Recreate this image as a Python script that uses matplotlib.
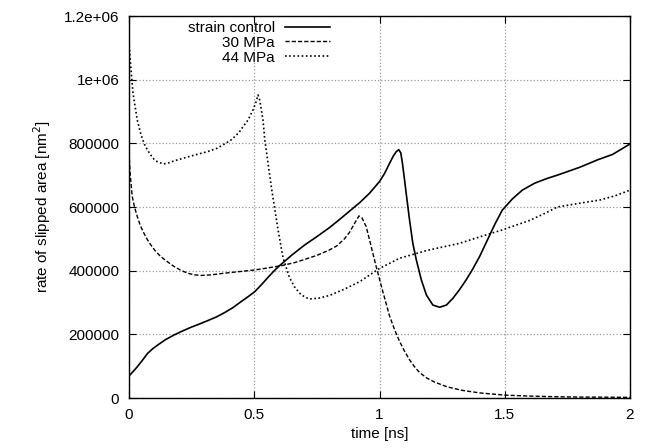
import matplotlib
matplotlib.use("Agg")
import matplotlib.pyplot as plt

plt.rcParams['font.family'] = ['Liberation Sans', 'DejaVu Sans']

# strain control (solid)
t_strain = [0.0, 0.015, 0.033, 0.055, 0.074, 0.095, 0.114, 0.145, 0.18, 0.215, 0.247, 0.28,
            0.314, 0.35, 0.381, 0.415, 0.448, 0.475, 0.502, 0.53, 0.555, 0.58, 0.6, 0.625,
            0.65, 0.7, 0.75, 0.8, 0.85, 0.9, 0.92, 0.96, 1.0, 1.02, 1.04, 1.055, 1.067,
            1.077, 1.085, 1.092, 1.1, 1.107, 1.12, 1.133, 1.147, 1.167, 1.187, 1.213, 1.24,
            1.267, 1.293, 1.32, 1.345, 1.37, 1.4, 1.43, 1.46, 1.49, 1.53, 1.57, 1.62, 1.67,
            1.71, 1.8, 1.87, 1.93, 2.0]
v_strain = [69000, 82000, 98000, 120000, 140000, 155000, 166000, 183000, 198000, 211000,
            222000, 232000, 243000, 255000, 268000, 284000, 303000, 318000, 334000, 357000,
            379000, 400000, 415000, 432000, 449000, 480000, 507000, 535000, 567000, 600000,
            613000, 643000, 680000, 705000, 737000, 760000, 774000, 780000, 770000, 735000,
            685000, 640000, 559000, 486000, 434000, 371000, 324000, 292000, 285000, 292000,
            313000, 341000, 370000, 402000, 445000, 495000, 545000, 590000, 625000, 653000,
            675000, 690000, 700000, 725000, 748000, 765000, 798000]

# 30 MPa (dashed)
t_30 = [0.0, 0.005, 0.013, 0.022, 0.033, 0.045, 0.06, 0.073, 0.087, 0.105, 0.127, 0.15,
        0.18, 0.205, 0.234, 0.26, 0.288, 0.33, 0.38, 0.44, 0.5, 0.55, 0.61, 0.66, 0.7,
        0.75, 0.8, 0.83, 0.86, 0.88, 0.9, 0.918, 0.93, 0.947, 0.967, 0.987, 1.013, 1.04,
        1.06, 1.08, 1.1, 1.12, 1.14, 1.16, 1.19, 1.22, 1.27, 1.33, 1.4, 1.5, 1.6, 1.7,
        1.8, 1.9, 2.0]
v_30 = [770000, 700000, 633000, 600000, 570000, 542000, 517000, 498000, 481000, 462000,
        444000, 430000, 413000, 402000, 392000, 387000, 385000, 387000, 392000, 397000,
        402000, 408000, 416000, 425000, 435000, 448000, 465000, 478000, 500000, 520000,
        548000, 572000, 566000, 538000, 475000, 412000, 335000, 258000, 215000, 178000,
        147000, 120000, 98000, 80000, 62000, 50000, 35000, 24000, 16000, 9000, 6000, 4000,
        3000, 2500, 2000]

# 44 MPa (dotted)
t_44 = [0.0, 0.005, 0.016, 0.033, 0.047, 0.06, 0.073, 0.087, 0.1, 0.114, 0.138, 0.16,
        0.18, 0.247, 0.314, 0.35, 0.381, 0.405, 0.422, 0.44, 0.455, 0.475, 0.495, 0.508,
        0.515, 0.522, 0.535, 0.542, 0.568, 0.595, 0.615, 0.64, 0.66, 0.68, 0.7, 0.72,
        0.76, 0.8, 0.86, 0.92, 1.0, 1.08, 1.187, 1.32, 1.4, 1.49, 1.6, 1.66, 1.71, 1.8,
        1.88, 1.94, 2.0]
v_44 = [1120000, 1060000, 958000, 873000, 830000, 800000, 780000, 763000, 750000, 742000,
        735000, 739000, 745000, 760000, 774000, 784000, 798000, 809000, 821000, 835000,
        852000, 873000, 905000, 932000, 952000, 935000, 873000, 811000, 664000, 528000,
        440000, 380000, 350000, 330000, 318000, 311000, 314000, 322000, 342000, 365000,
        407000, 439000, 463000, 486000, 506000, 528000, 558000, 580000, 600000, 612000,
        622000, 635000, 653000]

fig = plt.figure(figsize=(6.48, 4.48), dpi=100)
ax = fig.add_axes([129 / 648, 1 - 398 / 448, 501 / 648, 382 / 448])

ax.plot(t_strain, v_strain, color='black', lw=1.2, ls='-', label='strain control')
ax.plot(t_30, v_30, color='black', lw=1.0, ls=(0, (3, 1.5)), label='30 MPa')
ax.plot(t_44, v_44, color='black', lw=1.2, ls=(0, (1, 1.5)), label='44 MPa')

ax.set_xlim(0, 2)
ax.set_ylim(0, 1200000)
ax.set_xticks([0, 0.5, 1, 1.5, 2])
ax.set_xticklabels(['0', '0.5', '1', '1.5', '2'])
ax.set_yticks([0, 200000, 400000, 600000, 800000, 1000000, 1200000])
ax.set_yticklabels(['0', '200000', '400000', '600000', '800000', '1e+06', '1.2e+06'])
ax.tick_params(direction='in', top=True, right=True, length=5, labelsize=11, pad=7)
ax.grid(True, color='#999999', ls=':', lw=0.9)
for s in ax.spines.values():
    s.set_linewidth(1.0)

ax.set_xlabel('time [ns]', fontsize=11, labelpad=4)
ax.set_ylabel('rate of slipped area [nm$^2$]', fontsize=11, labelpad=8)

ax.legend(loc='upper right', bbox_to_anchor=((330 - 129) / 501, (398 - 21) / 382),
          frameon=False, markerfirst=False, fontsize=11, handlelength=2.95,
          handletextpad=0.65, labelspacing=0.05, borderpad=0, borderaxespad=0)

fig.savefig('out.png', dpi=100)
